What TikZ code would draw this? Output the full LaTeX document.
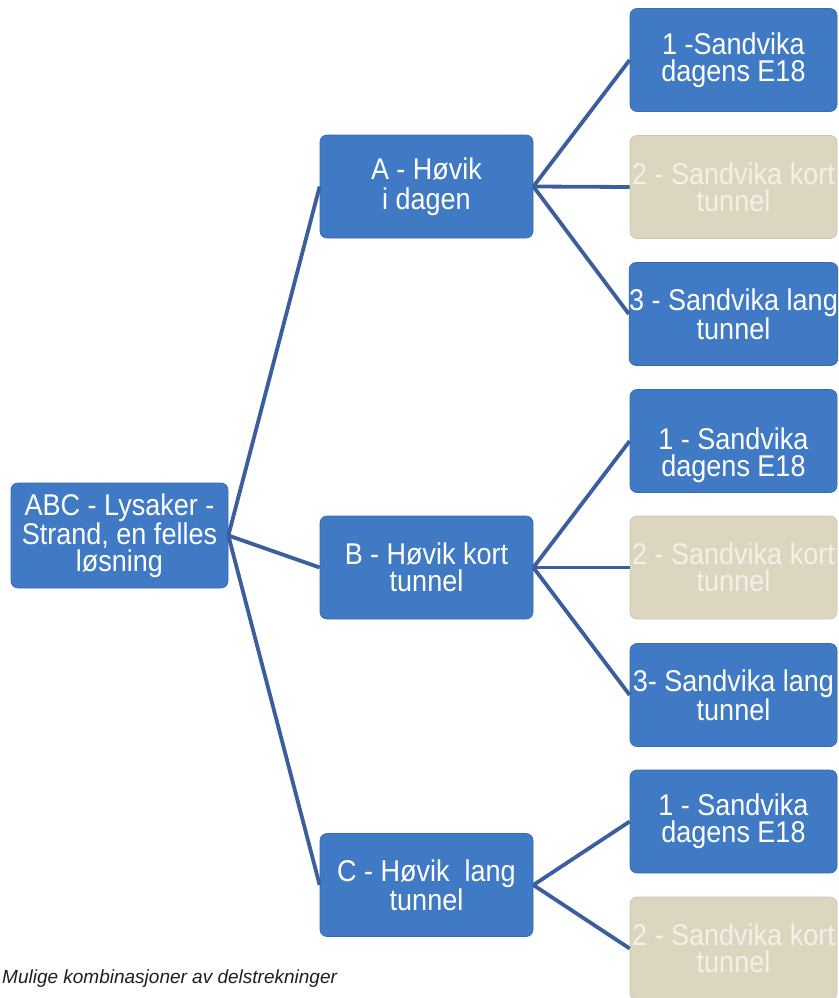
\documentclass[tikz,border=0pt]{standalone}
\usepackage{fontspec}
\setmainfont{Liberation Sans}
\newfontfamily\boxfont[FakeStretch=0.9]{Liberation Sans}
\definecolor{boxblue}{RGB}{64,122,196}
\definecolor{boxtan}{RGB}{220,214,192}
\definecolor{tantext}{RGB}{243,240,231}
\definecolor{connblue}{RGB}{60,94,156}
\begin{document}
\begin{tikzpicture}[x=1pt,y=-1pt,
  base/.style={rectangle, rounded corners=7pt, align=center, inner sep=0pt,
    font=\boxfont\fontsize{30}{27}\selectfont},
  bluebox/.style={base, fill=boxblue, draw=boxblue!88!black, line width=0.7pt, text=white},
  tanbox/.style={base, fill=boxtan, draw=boxtan!92!black, line width=0.7pt, text=tantext},
  midsize/.style={minimum width=213pt, minimum height=103pt},
  rsize/.style={minimum width=207pt, minimum height=103pt},
  boxtext/.style={align=center, inner sep=0pt, text=white,
    font=\boxfont\fontsize{30}{27}\selectfont},
  conn/.style={draw=connblue, line width=3.8pt}]
\useasboundingbox (0,0) rectangle (838,998);
\fill[white] (0,0) rectangle (838,998);
\clip (0,0) rectangle (838,998);

% root
\node[bluebox, minimum width=217pt, minimum height=105pt] (root) at (119.5,535.5)
  {ABC - Lysaker -\\Strand, en felles\\løsning};

% middle column
\node[bluebox, midsize] (A) at (426.5,186.5) {A - Høvik\\[3pt]i dagen};
\node[bluebox, midsize] (B) at (426.5,567.5) {B - Høvik kort\\tunnel};
\node[bluebox, midsize] (C) at (426.5,885) {C - Høvik\ \ lang\\tunnel};

% right column
\node[bluebox, rsize] (a1) at (733.5,60) {1 -Sandvika\\dagens E18};
\node[tanbox, rsize] (a2) at (733.5,187) {2 - Sandvika kort\\tunnel};
\node[bluebox, rsize] (a3) at (733.5,314) {3 - Sandvika lang\\tunnel};
\node[bluebox, rsize] (b1) at (733.5,441) {};
\node[boxtext] (b1t) at ([yshift=-14pt]b1.center) {1 - Sandvika\\dagens E18};
\node[tanbox, rsize] (b2) at (733.5,567.5) {2 - Sandvika kort\\tunnel};
\node[bluebox, rsize] (b3) at (733.5,695) {3- Sandvika lang\\tunnel};
\node[bluebox, rsize] (c1) at (733.5,821.5) {1 - Sandvika\\dagens E18};
\node[tanbox, rsize] (c2) at (733.5,948.5) {2 - Sandvika kort\\tunnel};

% connectors
\draw[conn] (root.east) -- (A.west);
\draw[conn] (root.east) -- (B.west);
\draw[conn] (root.east) -- (C.west);
\draw[conn] (A.east) -- (a1.west);
\draw[conn] (A.east) -- (a2.west);
\draw[conn] (A.east) -- (a3.west);
\draw[conn] (B.east) -- (b1.west);
\draw[conn] (B.east) -- (b2.west);
\draw[conn] (B.east) -- (b3.west);
\draw[conn] (C.east) -- (c1.west);
\draw[conn] (C.east) -- (c2.west);

% caption
\node[anchor=base west, inner sep=0pt, text=black!88,
  font=\itshape\fontsize{19}{22}\selectfont] (cap) at (2,983)
  {Mulige kombinasjoner av delstrekninger};
\end{tikzpicture}
\end{document}
